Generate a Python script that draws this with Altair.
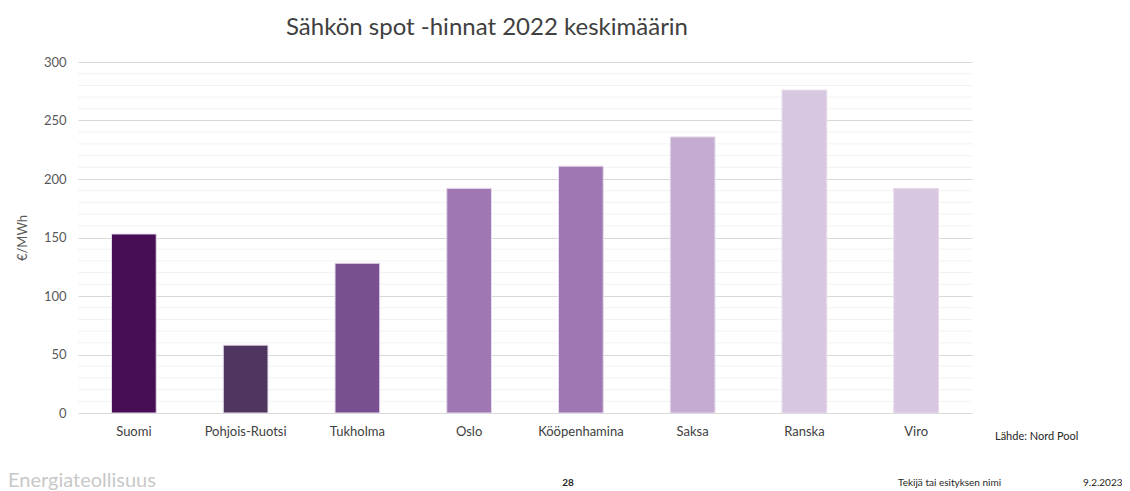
import altair as alt
import pandas as pd

categories = ["Suomi", "Pohjois-Ruotsi", "Tukholma", "Oslo", "Kööpenhamina", "Saksa", "Ranska", "Viro"]
values = [153, 58, 128, 192, 211, 236, 276, 192]
colors = ["#470d55", "#4f365e", "#79508f", "#9e77b3", "#9e77b3", "#c4abd1", "#d8c7e0", "#d8c7e0"]
minor_grid = [v for v in range(10, 300, 10) if v % 50 != 0]
major_ticks = list(range(0, 301, 50))

title_text = "Sähkön spot -hinnat 2022 keskimäärin"
y_title = "€/MWh"
source_text = "Lähde: Nord Pool"
footer_logo = "Energiateollisuus"
footer_page = "28"
footer_author = "Tekijä tai esityksen nimi"
footer_date = "9.2.2023"

FONT = "Lato"
W, H = 894, 351

df = pd.DataFrame({"cat": categories, "val": values, "col": colors})
gdf = pd.DataFrame({"g": minor_grid})

yscale = alt.Scale(domain=[0, 300])
yaxis = alt.Axis(values=major_ticks, grid=True, gridColor="#d9d9d9",
                 ticks=False, domain=False, labelFontSize=13, labelColor="#595959",
                 labelFont=FONT, labelPadding=12, title=y_title, titleFont=FONT,
                 titleFontSize=13, titleFontWeight="normal", titleColor="#595959",
                 titlePadding=14)

minor = alt.Chart(gdf).mark_rule(color="#f2f2f2", strokeWidth=1).encode(
    y=alt.Y("g:Q", scale=yscale, axis=yaxis),
    x=alt.value(0), x2=alt.value(W),
)

bars = alt.Chart(df).mark_bar(stroke="#e6dcea", strokeWidth=1).encode(
    x=alt.X("cat:N", sort=categories, title=None,
            scale=alt.Scale(paddingInner=0.6, paddingOuter=0.3),
            axis=alt.Axis(labelFontSize=13, labelColor="#404040", labelFont=FONT,
                          labelPadding=12, ticks=False, domain=False, labelAngle=0)),
    y=alt.Y("val:Q", scale=yscale, axis=yaxis),
    color=alt.Color("col:N", scale=None, legend=None),
)

def txt(s, x, y, size, color, align="left", weight="normal"):
    return alt.Chart(pd.DataFrame({"t": [s]})).mark_text(
        font=FONT, fontSize=size, color=color, align=align, baseline="middle",
        fontWeight=weight,
    ).encode(x=alt.value(x), y=alt.value(y), text="t:N")

texts = [
    txt(title_text, 409, -34, 24, "#404040", align="center"),
    txt(source_text, 917, 375, 11, "#262626"),
    txt(footer_logo, -70, 419, 20, "#c8c8c8"),
    txt(footer_page, 490, 421, 10, "#262626", align="center", weight="bold"),
    txt(footer_author, 820, 421, 10, "#262626"),
    txt(footer_date, 1005, 421, 10, "#262626"),
]

chart = alt.layer(minor, bars, *texts).properties(
    width=W, height=H,
    background="white",
    autosize=alt.AutoSizeParams(type="none"),
    padding={"left": 70, "top": 54, "right": 150, "bottom": 80},
).configure_view(stroke=None)

chart.save("out.html", embed_options={"renderer": "svg", "actions": False})
